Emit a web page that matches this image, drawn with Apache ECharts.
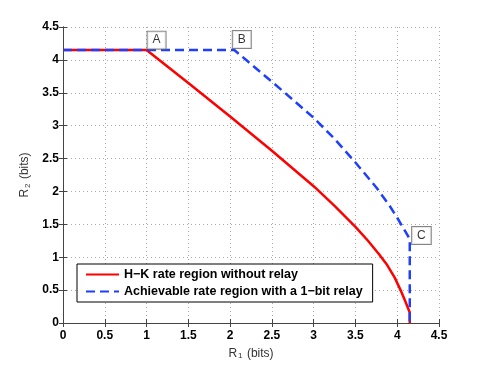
<!DOCTYPE html>
<html>
<head>
<meta charset="utf-8">
<script src="https://cdn.jsdelivr.net/npm/echarts@6/dist/echarts.min.js"></script>
<style>
  html, body { margin: 0; padding: 0; background: #fff; }
  #container { width: 485px; height: 365px; }
</style>
</head>
<body>
<div id="container"></div>
<script>
// H-K rate region without relay
var hkX = [0, 1.0, 1.5, 2.0, 2.5, 3.0, 3.25, 3.5, 3.65, 3.78, 3.88, 3.97, 4.04, 4.1, 4.15, 4.15];
var hkY = [4.15, 4.15, 3.65, 3.14, 2.62, 2.08, 1.78, 1.46, 1.25, 1.05, 0.88, 0.69, 0.50, 0.32, 0.16, 0];

// achievable rate region with a 1-bit relay
var relayX = [0, 2.05, 2.2, 2.6, 3.0, 3.25, 3.5, 3.75, 3.9, 4.0, 4.08, 4.13, 4.15, 4.15];
var relayY = [4.15, 4.15, 3.99, 3.56, 3.12, 2.80, 2.44, 2.06, 1.80, 1.60, 1.43, 1.32, 1.27, 0];

// corner labels
var cornerNames = ['A', 'B', 'C'];
var cornerX = [1.12, 2.14, 4.29];
var cornerY = [4.30, 4.31, 1.33];

var seriesNames = ['H\u2212K rate region without relay', 'Achievable rate region with a 1\u2212bit relay'];

function pairs(xs, ys) {
    var out = [];
    for (var i = 0; i < xs.length; i++) out.push([xs[i], ys[i]]);
    return out;
}
var cornerData = [];
for (var i = 0; i < cornerNames.length; i++) {
    cornerData.push({ name: cornerNames[i], value: [cornerX[i], cornerY[i]] });
}

var fontFam = 'Liberation Sans, Arial, sans-serif';
var axisNameRich = {
    n: { fontSize: 12, fontFamily: fontFam, color: '#333', lineHeight: 14 },
    s: { fontSize: 8, fontFamily: fontFam, color: '#333', lineHeight: 14, padding: [5, 1, 0, 1] }
};

var option = {
    animation: false,
    backgroundColor: '#fff',
    grid: { left: 63, right: 46, top: 27, bottom: 42 },
    legend: {
        data: seriesNames,
        orient: 'vertical',
        left: 77, top: 264,
        padding: [4, 10, 4, 8],
        itemWidth: 33, itemHeight: 14, itemGap: 4,
        borderColor: '#000', borderWidth: 1,
        backgroundColor: '#fff',
        itemStyle: { opacity: 0 },
        textStyle: { fontFamily: fontFam, fontWeight: 'bold', fontSize: 12.5, color: '#000' }
    },
    xAxis: [{
        type: 'value', min: 0, max: 4.5, interval: 0.5,
        name: '{n|R}{s|1}{n| (bits)}',
        nameLocation: 'middle', nameGap: 18,
        nameTextStyle: { rich: axisNameRich },
        axisLine: { onZero: false, lineStyle: { color: '#444', width: 1 } },
        axisTick: { inside: true, length: 4, lineStyle: { color: '#444' } },
        axisLabel: { color: '#000', fontWeight: 'bold', fontSize: 12, fontFamily: fontFam, margin: 7 },
        splitLine: { show: true, lineStyle: { color: '#aaa', type: [1, 3] } }
    }, {
        type: 'value', min: 0, max: 4.5, interval: 0.5, position: 'top',
        axisLine: { show: true, lineStyle: { color: '#444', width: 1 } },
        axisTick: { show: true, inside: true, length: 4, lineStyle: { color: '#444' } },
        axisLabel: { show: false },
        splitLine: { show: false }
    }],
    yAxis: [{
        type: 'value', min: 0, max: 4.5, interval: 0.5,
        name: '{n|R}{s|2}{n| (bits)}',
        nameLocation: 'middle', nameGap: 21,
        nameTextStyle: { rich: axisNameRich },
        axisLine: { show: true, onZero: false, lineStyle: { color: '#444', width: 1 } },
        axisTick: { show: true, inside: true, length: 4, lineStyle: { color: '#444' } },
        axisLabel: { color: '#000', fontWeight: 'bold', fontSize: 12, fontFamily: fontFam, margin: 4 },
        splitLine: { show: true, lineStyle: { color: '#aaa', type: [1, 3] } }
    }, {
        type: 'value', min: 0, max: 4.5, interval: 0.5, position: 'right',
        axisLine: { show: true, lineStyle: { color: '#444', width: 1 } },
        axisTick: { show: true, inside: true, length: 4, lineStyle: { color: '#444' } },
        axisLabel: { show: false },
        splitLine: { show: false }
    }],
    series: [
        {
            name: seriesNames[0],
            type: 'line',
            symbol: 'none',
            data: pairs(hkX, hkY),
            lineStyle: { color: '#ff0000', width: 2.5, join: 'round' },
            itemStyle: { color: '#ff0000' }
        },
        {
            name: seriesNames[1],
            type: 'line',
            symbol: 'none',
            data: pairs(relayX, relayY),
            lineStyle: { color: '#1f3fff', width: 2.5, type: [9, 5] },
            itemStyle: { color: '#1f3fff' }
        },
        {
            name: 'corners',
            type: 'scatter',
            symbolSize: 0,
            data: cornerData,
            z: 5,
            label: {
                show: true,
                position: 'inside',
                formatter: '{b}',
                color: '#000',
                fontSize: 12,
                fontFamily: fontFam,
                backgroundColor: '#fff',
                borderColor: '#666',
                borderWidth: 1,
                padding: [2, 5, 2, 5],
                lineHeight: 13
            }
        }
    ]
};
var myChart = echarts.init(document.getElementById('container'));
myChart.setOption(option);
</script>
</body>
</html>
